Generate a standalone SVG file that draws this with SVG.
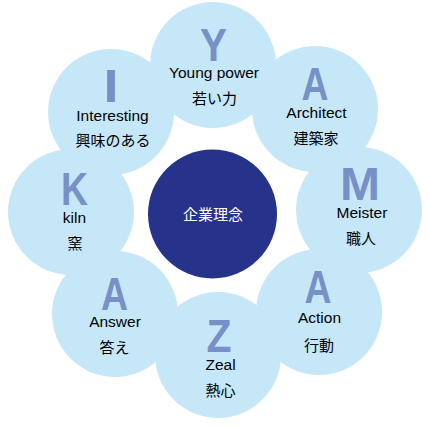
<svg xmlns="http://www.w3.org/2000/svg" width="430" height="428" viewBox="0 0 430 428">
<style>
.petal{fill:#c6e7f8}
.core{fill:#26338a}
.big{font-family:"Liberation Sans",Arial,sans-serif;font-weight:700;font-size:46px;fill:#7890c8;text-anchor:middle}
.en{font-family:"Liberation Sans","Noto Sans CJK JP",sans-serif;font-size:15.5px;fill:#000;text-anchor:middle}
.jp{font-family:"Noto Sans CJK JP",sans-serif;font-size:15px;fill:#000;text-anchor:middle}
.ct{font-family:"Noto Sans CJK JP",sans-serif;font-size:15px;fill:#fff;text-anchor:middle}
</style>
<rect width="430" height="428" fill="#fff"/>
<g id="petals">
<circle class="petal" cx="213" cy="65" r="63"/>
<circle class="petal" cx="315" cy="109" r="63"/>
<circle class="petal" cx="359" cy="210" r="63"/>
<circle class="petal" cx="319" cy="312" r="63"/>
<circle class="petal" cx="218" cy="355" r="63"/>
<circle class="petal" cx="115" cy="314" r="63"/>
<circle class="petal" cx="71" cy="212" r="63"/>
<circle class="petal" cx="111" cy="112" r="63"/>
</g>
<g id="node-center">
<circle class="core" cx="212.5" cy="214" r="64.5"/>
<text class="ct" x="213" y="220">企業理念</text>
</g>
<g id="node-y">
<text class="big" x="213.5" y="61" textLength="27" lengthAdjust="spacingAndGlyphs">Y</text>
<text class="en" x="214" y="78">Young power</text>
<text class="jp" x="214.5" y="104">若い力</text>
</g>
<g id="node-a1">
<text class="big" x="315" y="100" textLength="27" lengthAdjust="spacingAndGlyphs">A</text>
<text class="en" x="316.5" y="118">Architect</text>
<text class="jp" x="316" y="144">建築家</text>
</g>
<g id="node-m">
<text class="big" x="360" y="200" textLength="40" lengthAdjust="spacingAndGlyphs">M</text>
<text class="en" x="362" y="218">Meister</text>
<text class="jp" x="361" y="244">職人</text>
</g>
<g id="node-a2">
<text class="big" x="318" y="303" textLength="27" lengthAdjust="spacingAndGlyphs">A</text>
<text class="en" x="319.5" y="323">Action</text>
<text class="jp" x="319" y="351">行動</text>
</g>
<g id="node-z">
<text class="big" x="219" y="352" textLength="25" lengthAdjust="spacingAndGlyphs">Z</text>
<text class="en" x="220.5" y="370">Zeal</text>
<text class="jp" x="220.5" y="396">熱心</text>
</g>
<g id="node-a3">
<text class="big" x="114.5" y="310" textLength="27" lengthAdjust="spacingAndGlyphs">A</text>
<text class="en" x="115" y="327">Answer</text>
<text class="jp" x="114.5" y="353">答え</text>
</g>
<g id="node-k">
<text class="big" x="74.5" y="205" textLength="27" lengthAdjust="spacingAndGlyphs">K</text>
<text class="en" x="74.5" y="223">kiln</text>
<text class="jp" x="75" y="249">窯</text>
</g>
<g id="node-i">
<text class="big" x="111" y="102" textLength="15" lengthAdjust="spacingAndGlyphs">I</text>
<text class="en" x="112.5" y="121">Interesting</text>
<text class="jp" x="113" y="146">興味のある</text>
</g>
</svg>
